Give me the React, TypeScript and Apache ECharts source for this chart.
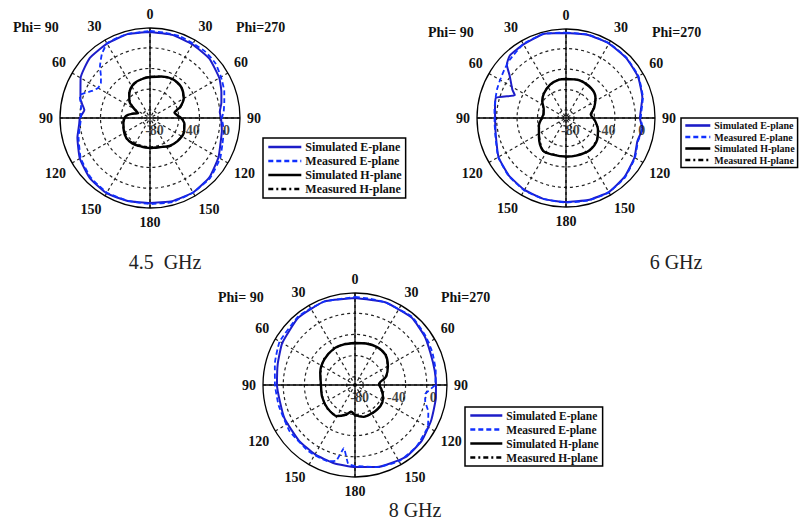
import React, { useEffect, useRef } from 'react';
import * as echarts from 'echarts';

// radial scale (dB): centre = -85, outer ring = 15
const radialMin = -85;
const radialMax = 15;
const radialLabels = [-80, -40, 0];
const gridCircles = [-76, -53, -30, -7];
const angleTicks = { min: 0, max: 360, step: 30 };

const seriesNames = ['Simulated E-plane', 'Measured E-plane', 'Simulated H-plane', 'Measured H-plane'];
const captions = ['4.5\u00a0 GHz', '6 GHz', '8 GHz'];

// [dB, angle(deg, clockwise from top)]
// ---- 4.5 GHz ----
const p1ESim = [[10.6,0],[10.6,15],[9.4,30],[8.3,45],[3.9,60],[-0.6,70],[-3.9,78],[-7.2,85],[-6.1,90],[-3.9,100],[-1.7,110],[2.8,120],[8.3,135],[10.6,150],[10.6,165],[9.4,180],[10.5,195],[11.5,210],[9.5,225],[5,240],[-1.5,255],[-6,265],[-7,270],[-11.5,277],[-5,285],[4,300],[9.5,315],[10.5,330],[11.5,345],[10.6,360]];
const p1EMeas = [[11.7,0],[11.2,10],[11.7,20],[10.6,30],[11,40],[9.8,50],[6.1,60],[2.8,70],[-0.6,78],[-2.8,85],[-5,90],[-1.7,100],[0.6,110],[5,120],[9.4,135],[10.6,150],[11.7,165],[10.6,180],[10.2,195],[10.8,210],[8.3,225],[3.9,240],[-2.8,255],[-7.2,265],[-8.3,270],[-7.2,280],[-2.8,288],[-13.9,295],[-18.3,300],[-18.3,305],[-13.9,310],[-5,316],[3.9,323],[10.6,330],[11.2,338],[11.7,345],[11.7,360]];
const p1HSim = [[-39.4,0],[-37.2,15],[-35,30],[-36.1,45],[-41.7,60],[-49.4,70],[-57.2,78],[-53.9,85],[-49.4,92],[-46.1,100],[-43.9,115],[-45,130],[-47.2,145],[-50.6,160],[-51.7,180],[-51.7,200],[-50.6,215],[-50.6,230],[-52.8,245],[-55,260],[-58.3,275],[-66.1,285],[-70.6,292],[-65,300],[-55,310],[-49.4,320],[-42.8,335],[-40.6,350],[-39.4,360]];
const p1HMeas = [[-39,0],[-38,10],[-36.5,22],[-35.5,33],[-36.5,47],[-42,60],[-48.5,70],[-56,78],[-54.5,85],[-48.5,92],[-46.5,102],[-44,115],[-45.5,130],[-46.5,145],[-51,160],[-51,172],[-52,183],[-51,200],[-51.5,215],[-50,230],[-53.5,245],[-54.5,260],[-59,275],[-65,285],[-71,292],[-64,300],[-56,310],[-48.5,320],[-43.5,335],[-40,350],[-39,360]];

// ---- 6 GHz ----
const p2ESim = [[10.5,0],[11.6,15],[11.6,30],[10.5,45],[8.3,60],[3.8,75],[-1.9,90],[1.5,98],[-0.7,108],[3.8,120],[8.3,135],[11.1,150],[10.5,165],[9.4,180],[9.4,195],[8.3,210],[6,225],[2.6,240],[-3.5,255],[-5.2,265],[-4.8,276],[-3,286],[-22.1,294],[-16.7,298],[-5.7,307],[4.5,312],[9.4,318],[10.5,330],[12.8,345],[10.5,360]];
const p2EMeas = [[11,0],[12,15],[12,30],[11,45],[9,60],[4.5,75],[-1,90],[2,98],[0,108],[4.5,120],[9,135],[11.5,150],[11,165],[10,180],[9.5,195],[9,210],[6.5,225],[3,240],[-3,255],[-4.5,265],[-4,277],[-2.5,287],[-1,293],[0.5,300],[3,308],[6,316],[11,330],[13,345],[11,360]];
const p2HSim = [[-41.2,0],[-40.1,20],[-41.2,40],[-44.6,55],[-51.3,70],[-56.9,82],[-52.4,95],[-46.8,110],[-42.3,125],[-40.1,145],[-41.2,165],[-41.7,180],[-41.2,200],[-40.1,215],[-47.9,235],[-53.5,255],[-59.2,278],[-58,292],[-52.4,305],[-47.9,318],[-43.4,335],[-41.2,350],[-41.2,360]];
const p2HMeas = [[-41,0],[-40.5,12],[-39.8,25],[-41.5,40],[-44,55],[-51.8,70],[-56,82],[-53,95],[-46,110],[-42.8,125],[-39.6,145],[-41.6,165],[-41.2,180],[-41.8,200],[-39.8,215],[-48.5,235],[-53,255],[-59.8,278],[-57.4,292],[-52.9,305],[-47.2,318],[-43.8,335],[-40.8,350],[-41,360]];

// ---- 8 GHz ----
const p3ESim = [[9.6,0],[10.7,20],[10.7,40],[7.4,55],[4.1,67],[3,80],[3,90],[4.1,100],[6.3,115],[9.6,130],[10.7,145],[7.4,165],[4.1,180],[3,195],[2,210],[0.9,225],[-0.2,245],[-0.2,270],[2,285],[6.3,300],[10.7,320],[11.7,340],[9.6,360]];
const p3EMeas = [[10.7,0],[10.2,10],[10.7,20],[11.7,40],[8.5,55],[6.3,67],[4.1,80],[2,90],[-7.8,97],[-6.7,103],[-0.2,110],[6.3,120],[9.6,135],[10.7,150],[7.4,165],[3,180],[0.9,185],[-15.4,190],[-0.2,194],[3,200],[3,215],[2,235],[0.9,255],[2,270],[5.2,285],[9.6,300],[11.7,320],[11.2,330],[11.7,340],[10.7,360]];
const p3HSim = [[-39.3,0],[-38.3,15],[-37.2,30],[-38.3,45],[-43.7,60],[-50.2,75],[-58.9,88],[-55.7,100],[-51.3,115],[-49.1,130],[-49.1,150],[-49.1,165],[-52.4,180],[-55.7,188],[-51.3,197],[-45.9,210],[-45.9,230],[-47,250],[-48,270],[-44.8,290],[-41.5,310],[-39.3,330],[-39.3,345],[-39.3,360]];
const p3HMeas = [[-39.8,0],[-37.8,15],[-37.8,30],[-37.6,45],[-44.3,60],[-49.6,75],[-58.2,88],[-56.3,100],[-50.7,115],[-49.7,130],[-48.5,150],[-49.7,165],[-51.8,180],[-56.3,188],[-50.7,197],[-46.5,210],[-45.3,230],[-47.6,250],[-47.4,270],[-45.4,290],[-40.9,310],[-39.9,330],[-38.7,345],[-39.8,360]];

const plots = [
  { e: p1ESim, em: p1EMeas, h: p1HSim, hm: p1HMeas },
  { e: p2ESim, em: p2EMeas, h: p2HSim, hm: p2HMeas },
  { e: p3ESim, em: p3EMeas, h: p3HSim, hm: p3HMeas },
];

const layout = [
  { center: [150, 118], radius: 90, phiY: 28, phiL: 13, phiR: 236, cap: [165, 262] },
  { center: [566, 118], radius: 89, phiY: 33, phiL: 428, phiR: 652, cap: [676, 262] },
  { center: [355, 385], radius: 92, phiY: 298, phiL: 218, phiR: 441, cap: [415, 510] },
];

const legendLayout = [
  { left: 263, top: 138, iw: 33, ih: 13, gap: 2, fs: 12, pad: [3, 4, 3, 4] },
  { left: 681, top: 118, iw: 25, ih: 11, gap: 1.5, fs: 10, pad: [2.5, 3, 2.5, 3] },
  { left: 465, top: 407, iw: 32, ih: 12, gap: 2, fs: 11.5, pad: [2.5, 4, 2.5, 4] },
];

const FONT = '"Liberation Serif", "Times New Roman", serif';
const BLUE = '#1d1dc8';
const BLUE2 = '#1030ff';

export default function App() {
  const ref = useRef<HTMLDivElement>(null);
  useEffect(() => {
    if (!ref.current) return;
    const chart = echarts.init(ref.current, null, { renderer: 'svg' });
    const series: any[] = [];
    plots.forEach((p, i) => {
      const base = { type: 'line', coordinateSystem: 'polar', polarIndex: i, symbol: 'none', showSymbol: false };
      series.push({ ...base, name: 'Simulated H-plane', data: p.h, smooth: 0.3, lineStyle: { color: '#000', width: 2.4 }, itemStyle: { color: '#000' }, z: 3 });
      series.push({ ...base, name: 'Measured H-plane', data: p.hm, smooth: 0.2, lineStyle: { color: '#000', width: 1.6, type: [5, 3, 2, 3] }, itemStyle: { color: '#000' }, z: 4 });
      series.push({ ...base, name: 'Simulated E-plane', data: p.e, smooth: 0.15, lineStyle: { color: BLUE, width: 2 }, itemStyle: { color: BLUE }, z: 5 });
      series.push({ ...base, name: 'Measured E-plane', data: p.em, smooth: 0.12, lineStyle: { color: BLUE2, width: 1.8, type: [5, 3] }, itemStyle: { color: BLUE2 }, z: 6 });
      // cross axes
      series.push({ ...base, name: 'axisV', data: [[radialMax, 0], [radialMin, 0], [radialMax, 180]], lineStyle: { color: '#000', width: 1.3 }, silent: true, z: 2 });
      series.push({ ...base, name: 'axisH', data: [[radialMax, 90], [radialMin, 90], [radialMax, 270]], lineStyle: { color: '#000', width: 1.3 }, silent: true, z: 2 });
      series.push({
        type: 'scatter', coordinateSystem: 'polar', polarIndex: i, name: 'rlabels', symbolSize: 0, silent: true, z: 7,
        data: radialLabels.map((v) => [v, 90]),
        label: { show: true, position: 'bottom', distance: 5, formatter: (q: any) => String(q.value[0]), fontFamily: FONT, fontWeight: 'bold', fontSize: 14, color: '#111' },
      });
    });

    const graphics: any[] = [];
    layout.forEach((l, i) => {
      graphics.push({ type: 'text', left: l.phiL, top: l.phiY - 8, style: { text: 'Phi= 90', font: `bold 14px ${FONT}`, fill: '#111' } });
      graphics.push({ type: 'text', left: l.phiR, top: l.phiY - 8, style: { text: 'Phi=270', font: `bold 14px ${FONT}`, fill: '#111' } });
      graphics.push({ type: 'text', x: l.cap[0], y: l.cap[1], style: { text: captions[i], font: `20px ${FONT}`, fill: '#222', align: 'center', verticalAlign: 'middle' } });
    });

    chart.setOption({
      animation: false,
      backgroundColor: '#fff',
      polar: layout.map((l) => ({ center: l.center, radius: l.radius })),
      angleAxis: layout.map((_, i) => ({
        polarIndex: i, type: 'value', min: angleTicks.min, max: angleTicks.max, interval: angleTicks.step,
        startAngle: 90, clockwise: true,
        axisLine: { lineStyle: { color: '#000', width: 1.3 } },
        axisTick: { show: false },
        splitLine: { show: true, lineStyle: { color: '#222', type: [3, 3], width: 1.2 } },
        axisLabel: {
          margin: 7, fontFamily: FONT, fontWeight: 'bold', fontSize: 14, color: '#111',
          formatter: (v: number) => (v >= 360 ? '' : String(v <= 180 ? v : 360 - v)),
        },
      })),
      radiusAxis: layout.map((_, i) => ({
        polarIndex: i, type: 'value', min: radialMin, max: radialMax,
        axisLine: { show: false }, axisLabel: { show: false },
        axisTick: { show: false, customValues: gridCircles },
        splitLine: { show: true, lineStyle: { color: '#222', type: [3, 3], width: 1.2 } },
      })),
      legend: legendLayout.map((g) => ({
        data: seriesNames, orient: 'vertical', left: g.left, top: g.top,
        itemWidth: g.iw, itemHeight: g.ih, itemGap: g.gap, padding: g.pad,
        borderColor: '#000', borderWidth: 1.5, borderRadius: 0, selectedMode: false,
        itemStyle: { opacity: 0 }, lineStyle: { width: 2.6 },
        textStyle: { fontFamily: FONT, fontWeight: 'bold', fontSize: g.fs, color: '#111', padding: [0, 0, 0, -1] },
      })),
      graphic: graphics,
      series,
    });
    return () => chart.dispose();
  }, []);
  return <div ref={ref} style={{ position: 'absolute', left: 0, top: 0, width: 802, height: 525 }} />;
}
